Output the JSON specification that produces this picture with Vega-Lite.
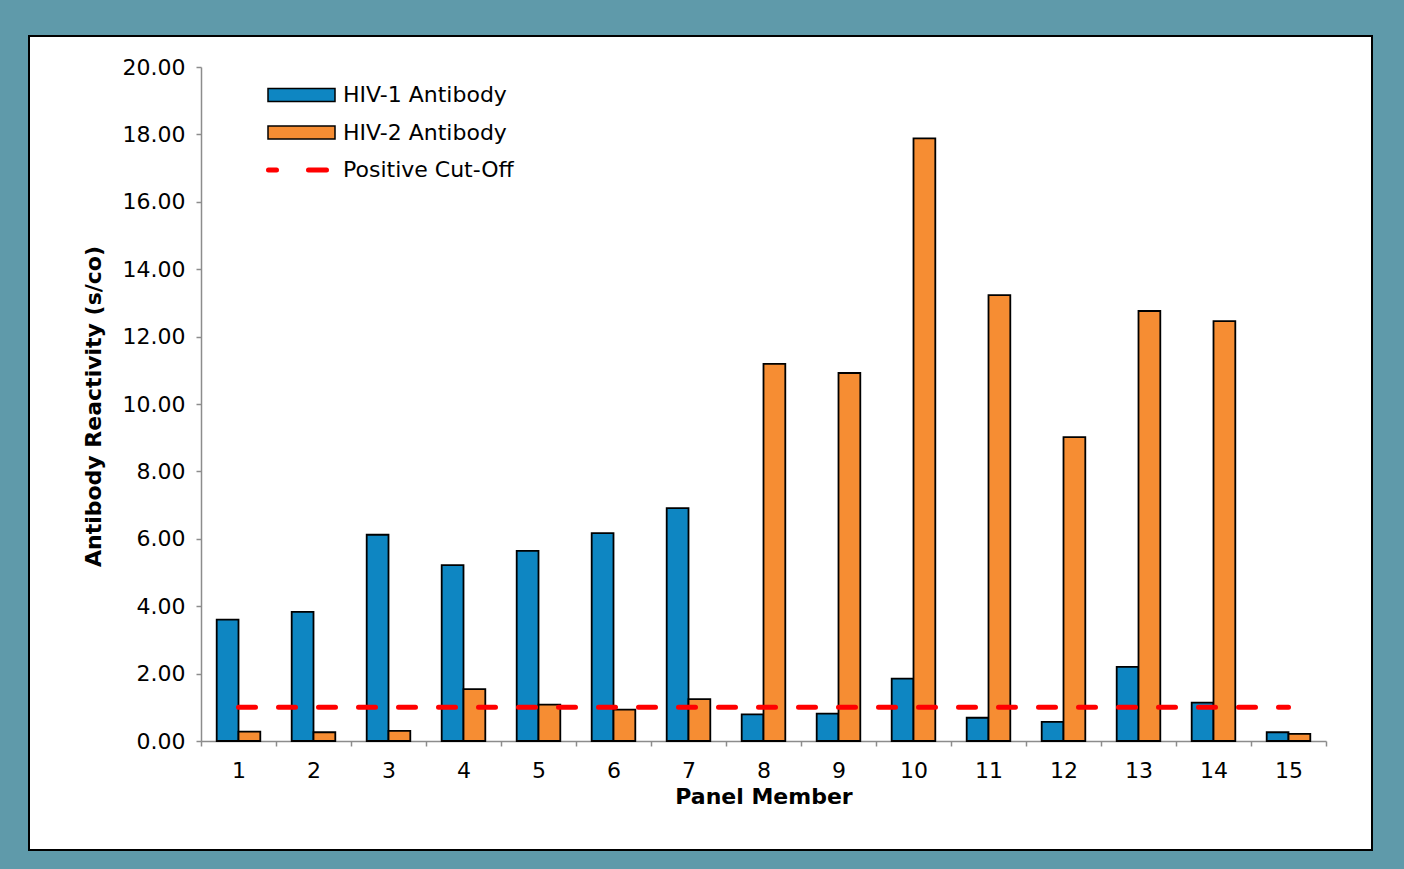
{
  "$schema": "https://vega.github.io/schema/vega-lite/v6.json",
  "width": 1343,
  "height": 814,
  "autosize": {"type": "none"},
  "padding": {"left": 29, "top": 36, "right": 32, "bottom": 19},
  "background": "#5f9aaa",
  "config": {
    "view": {"fill": "white", "stroke": "black", "strokeWidth": 2},
    "font": "DejaVu Sans",
    "legend": {
      "orient": "none",
      "legendX": 233,
      "legendY": 48,
      "padding": 0,
      "labelFont": "DejaVu Sans",
      "labelFontSize": 22,
      "labelColor": "black",
      "labelLimit": 0,
      "labelOffset": 59,
      "symbolSize": 100,
      "symbolOpacity": 1,
      "symbolStrokeWidth": 1.5,
      "rowPadding": 15.5
    }
  },
  "data": {
    "values": [
      {"panel": 1, "series": "HIV-1 Antibody", "value": 3.60},
      {"panel": 2, "series": "HIV-1 Antibody", "value": 3.83},
      {"panel": 3, "series": "HIV-1 Antibody", "value": 6.12},
      {"panel": 4, "series": "HIV-1 Antibody", "value": 5.22},
      {"panel": 5, "series": "HIV-1 Antibody", "value": 5.64},
      {"panel": 6, "series": "HIV-1 Antibody", "value": 6.17},
      {"panel": 7, "series": "HIV-1 Antibody", "value": 6.91},
      {"panel": 8, "series": "HIV-1 Antibody", "value": 0.79},
      {"panel": 9, "series": "HIV-1 Antibody", "value": 0.81},
      {"panel": 10, "series": "HIV-1 Antibody", "value": 1.85},
      {"panel": 11, "series": "HIV-1 Antibody", "value": 0.69},
      {"panel": 12, "series": "HIV-1 Antibody", "value": 0.57},
      {"panel": 13, "series": "HIV-1 Antibody", "value": 2.20},
      {"panel": 14, "series": "HIV-1 Antibody", "value": 1.14},
      {"panel": 15, "series": "HIV-1 Antibody", "value": 0.26},
      {"panel": 1, "series": "HIV-2 Antibody", "value": 0.28},
      {"panel": 2, "series": "HIV-2 Antibody", "value": 0.26},
      {"panel": 3, "series": "HIV-2 Antibody", "value": 0.30},
      {"panel": 4, "series": "HIV-2 Antibody", "value": 1.54},
      {"panel": 5, "series": "HIV-2 Antibody", "value": 1.08},
      {"panel": 6, "series": "HIV-2 Antibody", "value": 0.93},
      {"panel": 7, "series": "HIV-2 Antibody", "value": 1.24},
      {"panel": 8, "series": "HIV-2 Antibody", "value": 11.19},
      {"panel": 9, "series": "HIV-2 Antibody", "value": 10.92},
      {"panel": 10, "series": "HIV-2 Antibody", "value": 17.88},
      {"panel": 11, "series": "HIV-2 Antibody", "value": 13.23},
      {"panel": 12, "series": "HIV-2 Antibody", "value": 9.02},
      {"panel": 13, "series": "HIV-2 Antibody", "value": 12.76},
      {"panel": 14, "series": "HIV-2 Antibody", "value": 12.46},
      {"panel": 15, "series": "HIV-2 Antibody", "value": 0.21},
      {"panel": 1, "series": "Positive Cut-Off", "value": 1.0},
      {"panel": 2, "series": "Positive Cut-Off", "value": 1.0},
      {"panel": 3, "series": "Positive Cut-Off", "value": 1.0},
      {"panel": 4, "series": "Positive Cut-Off", "value": 1.0},
      {"panel": 5, "series": "Positive Cut-Off", "value": 1.0},
      {"panel": 6, "series": "Positive Cut-Off", "value": 1.0},
      {"panel": 7, "series": "Positive Cut-Off", "value": 1.0},
      {"panel": 8, "series": "Positive Cut-Off", "value": 1.0},
      {"panel": 9, "series": "Positive Cut-Off", "value": 1.0},
      {"panel": 10, "series": "Positive Cut-Off", "value": 1.0},
      {"panel": 11, "series": "Positive Cut-Off", "value": 1.0},
      {"panel": 12, "series": "Positive Cut-Off", "value": 1.0},
      {"panel": 13, "series": "Positive Cut-Off", "value": 1.0},
      {"panel": 14, "series": "Positive Cut-Off", "value": 1.0},
      {"panel": 15, "series": "Positive Cut-Off", "value": 1.0}
    ]
  },
  "encoding": {
    "x": {
      "field": "panel",
      "type": "ordinal",
      "scale": {"range": [172, 1297], "paddingInner": 0, "paddingOuter": 0},
      "axis": {
        "orient": "bottom",
        "offset": -109,
        "domain": true,
        "domainColor": "#8c8c8c",
        "domainWidth": 1.5,
        "tickBand": "extent",
        "tickColor": "#8c8c8c",
        "tickSize": 5,
        "tickWidth": 1.5,
        "labelAngle": 0,
        "labelPadding": 14,
        "labelFont": "DejaVu Sans",
        "labelFontSize": 22,
        "labelColor": "black",
        "title": "Panel Member",
        "titleFont": "DejaVu Sans",
        "titleFontSize": 22,
        "titleFontWeight": "bold",
        "titleColor": "black",
        "titleX": 734.5,
        "titleY": 62,
        "titleAlign": "center",
        "titleBaseline": "alphabetic"
      }
    },
    "y": {
      "field": "value",
      "type": "quantitative",
      "stack": null,
      "scale": {"domain": [0, 20], "range": [705, 31], "nice": false, "zero": false},
      "axis": {
        "orient": "left",
        "offset": -172,
        "values": [0, 2, 4, 6, 8, 10, 12, 14, 16, 18, 20],
        "format": ".2f",
        "domain": true,
        "domainColor": "#8c8c8c",
        "domainWidth": 1.5,
        "grid": false,
        "tickColor": "#8c8c8c",
        "tickSize": 5,
        "tickWidth": 1.5,
        "labelPadding": 11,
        "labelFont": "DejaVu Sans",
        "labelFontSize": 22,
        "labelColor": "black",
        "title": "Antibody Reactivity (s/co)",
        "titleFont": "DejaVu Sans",
        "titleFontSize": 22,
        "titleFontWeight": "bold",
        "titleColor": "black",
        "titleAngle": -90,
        "titleX": -101,
        "titleY": 370,
        "titleAlign": "center",
        "titleBaseline": "alphabetic"
      }
    }
  },
  "layer": [
    {
      "transform": [{"filter": "datum.series !== 'Positive Cut-Off'"}],
      "mark": {"type": "bar", "stroke": "black", "strokeWidth": 1.8},
      "encoding": {
        "xOffset": {
          "field": "series",
          "type": "nominal",
          "scale": {"domain": ["HIV-1 Antibody", "HIV-2 Antibody"], "paddingInner": 0, "paddingOuter": 0.72}
        },
        "fill": {
          "field": "series",
          "type": "nominal",
          "scale": {
            "domain": ["HIV-1 Antibody", "HIV-2 Antibody", "Positive Cut-Off"],
            "range": ["#0e86c2", "#f68d33", "#ff0000"]
          },
          "legend": {
            "title": null,
            "encode": {
              "symbols": {
                "update": {
                  "shape": {"signal": "datum.value === 'Positive Cut-Off' ? 'M-0.9,0H0.7M7.1,0H10.7' : 'M-1,-1.3H12.4V1.3H-1Z'"},
                  "strokeWidth": {"signal": "datum.value === 'Positive Cut-Off' ? 5 : 1.5"},
                  "strokeCap": {"value": "round"},
                  "opacity": {"value": 1}
                }
              }
            }
          }
        }
      }
    },
    {
      "transform": [{"filter": "datum.series === 'Positive Cut-Off'"}],
      "mark": {"type": "line", "strokeWidth": 5, "strokeDash": [17, 23], "strokeCap": "round"},
      "encoding": {
        "stroke": {
          "field": "series",
          "type": "nominal",
          "scale": {
            "domain": ["HIV-1 Antibody", "HIV-2 Antibody", "Positive Cut-Off"],
            "range": ["#000000", "#000000", "#ff0000"]
          },
          "legend": {
            "title": null,
            "encode": {
              "symbols": {
                "update": {
                  "shape": {"signal": "datum.value === 'Positive Cut-Off' ? 'M-0.9,0H0.7M7.1,0H10.7' : 'M-1,-1.3H12.4V1.3H-1Z'"},
                  "strokeWidth": {"signal": "datum.value === 'Positive Cut-Off' ? 5 : 1.5"},
                  "strokeCap": {"value": "round"},
                  "opacity": {"value": 1}
                }
              }
            }
          }
        }
      }
    }
  ]
}
